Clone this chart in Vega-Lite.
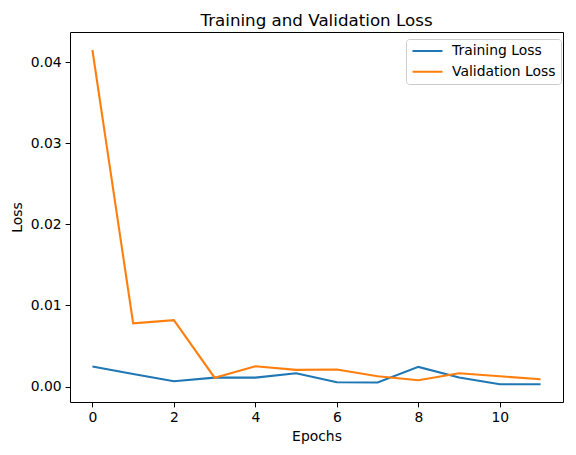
{
  "$schema": "https://vega.github.io/schema/vega-lite/v6.json",
  "width": 493,
  "height": 370,
  "autosize": {"type": "none"},
  "padding": {"left": 70, "top": 32, "right": 13, "bottom": 53},
  "background": "white",
  "config": {
    "font": "DejaVu Sans",
    "view": {"stroke": "black", "strokeWidth": 1},
    "axis": {
      "domain": false,
      "grid": false,
      "ticks": true,
      "tickColor": "black",
      "tickSize": 4.9,
      "tickWidth": 1,
      "labelColor": "black",
      "labelFontSize": 13.9,
      "labelPadding": 4,
      "titleColor": "black",
      "titleFontSize": 13.9,
      "titleFontWeight": "normal"
    }
  },
  "title": {
    "text": "Training and Validation Loss",
    "fontSize": 16.7,
    "fontWeight": "normal",
    "color": "black",
    "anchor": "middle",
    "frame": "group",
    "baseline": "alphabetic",
    "offset": -11
  },
  "data": {
    "values": [
      {"epoch": 0, "series": "Training Loss", "loss": 0.00247},
      {"epoch": 1, "series": "Training Loss", "loss": 0.00156},
      {"epoch": 2, "series": "Training Loss", "loss": 0.00066},
      {"epoch": 3, "series": "Training Loss", "loss": 0.00111},
      {"epoch": 4, "series": "Training Loss", "loss": 0.00111},
      {"epoch": 5, "series": "Training Loss", "loss": 0.00165},
      {"epoch": 6, "series": "Training Loss", "loss": 0.00053},
      {"epoch": 7, "series": "Training Loss", "loss": 0.0005},
      {"epoch": 8, "series": "Training Loss", "loss": 0.00243},
      {"epoch": 9, "series": "Training Loss", "loss": 0.00111},
      {"epoch": 10, "series": "Training Loss", "loss": 0.00029},
      {"epoch": 11, "series": "Training Loss", "loss": 0.00029},
      {"epoch": 0, "series": "Validation Loss", "loss": 0.0415},
      {"epoch": 1, "series": "Validation Loss", "loss": 0.0078},
      {"epoch": 2, "series": "Validation Loss", "loss": 0.0082},
      {"epoch": 3, "series": "Validation Loss", "loss": 0.0011},
      {"epoch": 4, "series": "Validation Loss", "loss": 0.0025},
      {"epoch": 5, "series": "Validation Loss", "loss": 0.00206},
      {"epoch": 6, "series": "Validation Loss", "loss": 0.0021},
      {"epoch": 7, "series": "Validation Loss", "loss": 0.00128},
      {"epoch": 8, "series": "Validation Loss", "loss": 0.00078},
      {"epoch": 9, "series": "Validation Loss", "loss": 0.00165},
      {"epoch": 10, "series": "Validation Loss", "loss": 0.00128},
      {"epoch": 11, "series": "Validation Loss", "loss": 0.0009}
    ]
  },
  "mark": {"type": "line", "strokeWidth": 2.1, "clip": true},
  "encoding": {
    "x": {
      "field": "epoch",
      "type": "quantitative",
      "title": "Epochs",
      "scale": {"domain": [-0.55, 11.55], "nice": false, "zero": false},
      "axis": {"values": [0, 2, 4, 6, 8, 10], "format": "d", "titlePadding": 5}
    },
    "y": {
      "field": "loss",
      "type": "quantitative",
      "title": "Loss",
      "scale": {"domain": [-0.0019, 0.04372], "nice": false, "zero": false},
      "axis": {"values": [0, 0.01, 0.02, 0.03, 0.04], "format": ".2f", "titlePadding": 6}
    },
    "color": {
      "field": "series",
      "type": "nominal",
      "scale": {"domain": ["Training Loss", "Validation Loss"], "range": ["#1f77b4", "#ff7f0e"]},
      "legend": {
        "title": null,
        "orient": "none",
        "legendX": 336,
        "legendY": 7,
        "direction": "vertical",
        "symbolType": "stroke",
        "symbolSize": 900,
        "symbolStrokeWidth": 2.1,
        "clipHeight": 14,
        "rowPadding": 6.7,
        "labelOffset": 8,
        "labelFontSize": 13.9,
        "labelColor": "black",
        "padding": 5,
        "strokeColor": "#cccccc",
        "fillColor": "white",
        "cornerRadius": 3
      }
    }
  }
}
